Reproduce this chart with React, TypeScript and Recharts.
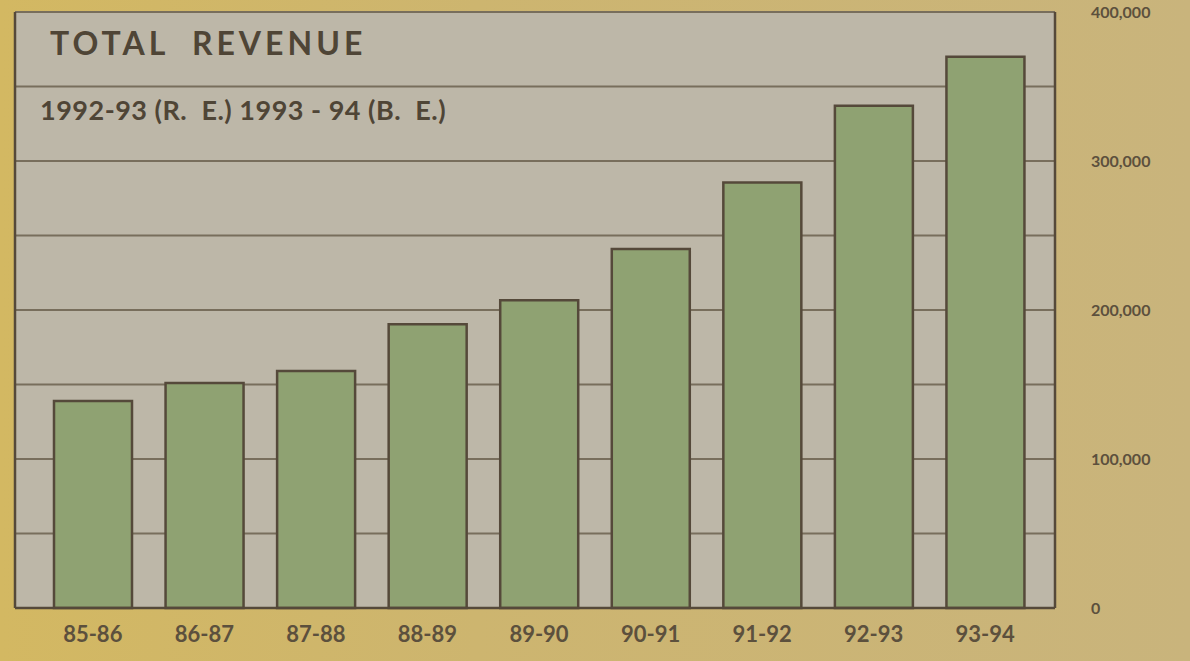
import { BarChart, Bar, XAxis, YAxis, CartesianGrid } from "recharts";

const YEARS = ["85-86", "86-87", "87-88", "88-89", "89-90", "90-91", "91-92", "92-93", "93-94"];
const REVENUE = [139000, 151000, 159000, 190500, 206500, 241000, 285500, 337000, 370000];
const Y_TICKS = [0, 50000, 100000, 150000, 200000, 250000, 300000, 350000, 400000];

const INK = "#55493a";

const data = YEARS.map((year, i) => ({ year, revenue: REVENUE[i] }));

const formatTick = (v: number) => (v % 100000 === 0 ? v.toLocaleString("en-US") : "");

export default function App() {
  return (
    <div
      style={{
        position: "fixed",
        top: 0,
        left: 0,
        width: 1190,
        height: 661,
        background: "linear-gradient(90deg, #d3b862 0%, #cdb56f 40%, #c9b47c 100%)",
        fontFamily: "Lato, 'Open Sans', sans-serif",
      }}
    >
      <BarChart
        width={1190}
        height={661}
        data={data}
        margin={{ top: 12, right: 0, bottom: 0, left: 13 }}
      >
        <CartesianGrid
          yAxisId="r"
          vertical={false}
          stroke="#786e5c"
          strokeWidth={2}
          fill="#bdb7a8"
          fillOpacity={1}
        />
        <XAxis
          dataKey="year"
          height={53}
          padding={{ left: 22, right: 14 }}
          axisLine={{ stroke: INK, strokeWidth: 2.5 }}
          tickLine={false}
          tickMargin={12}
          tick={{ fontSize: 22, fontWeight: 700, fill: "#5c503d" }}
        />
        <YAxis
          yAxisId="l"
          orientation="left"
          width={2}
          domain={[0, 400000]}
          tick={false}
          tickLine={false}
          axisLine={{ stroke: INK, strokeWidth: 2.5 }}
        />
        <YAxis
          yAxisId="r"
          orientation="right"
          width={135}
          domain={[0, 400000]}
          ticks={Y_TICKS}
          tickFormatter={formatTick}
          axisLine={{ stroke: INK, strokeWidth: 2.5 }}
          tickLine={false}
          tickMargin={30}
          tick={{ fontSize: 16, fontWeight: 700, fill: "#5c503d" }}
        />
        <Bar
          yAxisId="r"
          dataKey="revenue"
          barSize={78}
          fill="#8fa272"
          stroke={INK}
          strokeWidth={2.5}
          isAnimationActive={false}
        />
      </BarChart>
      <div
        style={{
          position: "absolute",
          left: 50,
          top: 23,
          fontSize: 32,
          fontWeight: 700,
          letterSpacing: 4,
          color: "#4f4536",
        }}
      >
        TOTAL&nbsp;&nbsp;REVENUE
      </div>
      <div
        style={{
          position: "absolute",
          left: 40,
          top: 93,
          fontSize: 27,
          fontWeight: 700,
          letterSpacing: 0.5,
          color: "#4f4536",
        }}
      >
        1992-93 (R.&nbsp;&nbsp;E.) 1993 - 94 (B.&nbsp;&nbsp;E.)
      </div>
    </div>
  );
}
